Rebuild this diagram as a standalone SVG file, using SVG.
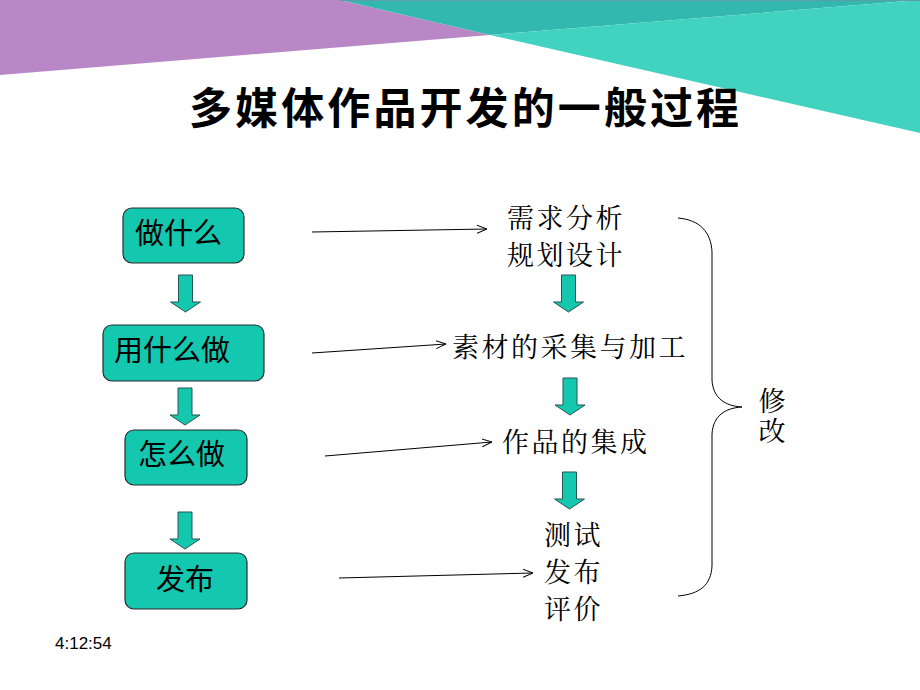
<svg xmlns="http://www.w3.org/2000/svg" width="920" height="690" viewBox="0 0 920 690">
<style>
.node rect{fill:#14C7AF;stroke:#2b2b2b;stroke-width:1.2}
.nt{font-family:"Noto Sans CJK SC","Noto Sans",sans-serif;font-size:29px;fill:#000}
.rt{font-family:"Noto Serif CJK SC","Noto Sans CJK SC",serif;font-size:27px;fill:#000;letter-spacing:2.5px}
.blk{fill:#14C7AF;stroke:#2b5550;stroke-width:1}
.thin{fill:none;stroke:#000;stroke-width:1;marker-end:url(#open)}
</style>
<defs>
<marker id="open" viewBox="0 0 10 10" refX="10" refY="5" markerWidth="10" markerHeight="10" markerUnits="userSpaceOnUse" orient="auto">
<path d="M0,1 L10,5 L0,9" fill="none" stroke="#000" stroke-width="1"/>
</marker>
<path id="barrow" d="M-7,0 H7 V27 H15 L0,37 L-15,27 H-7 Z"/>
</defs>
<rect width="920" height="690" fill="#fff"/>
<g id="banner">
<polygon points="0,0 340,0 490,35 0,75" fill="#B987C5"/>
<polygon points="340,0 920,0 490,35" fill="#33B8B0"/>
<polygon points="490,35 920,0 920,133" fill="#42D2C0"/>
<line x1="340" y1="0.5" x2="920" y2="0.5" stroke="#5c9ea6" stroke-width="1"/>
</g>
<text id="title" x="189" y="124" font-family="Noto Sans CJK SC,sans-serif" font-weight="bold" font-size="43" letter-spacing="3.1" fill="#000">多媒体作品开发的一般过程</text>
<g id="n1" class="node"><rect x="123" y="208" width="121" height="55" rx="9"/><text class="nt" x="135" y="244">做什么</text></g>
<g id="n2" class="node"><rect x="103" y="325" width="161" height="56" rx="9"/><text class="nt" x="114" y="361">用什么做</text></g>
<g id="n3" class="node"><rect x="125" y="430" width="122" height="55" rx="9"/><text class="nt" x="138" y="465">怎么做</text></g>
<g id="n4" class="node"><rect x="125" y="553" width="122" height="56" rx="9"/><text class="nt" x="156" y="590">发布</text></g>
<g id="r1"><text class="rt" x="507" y="228">需求分析</text><text class="rt" x="507" y="265">规划设计</text></g>
<g id="r2"><text class="rt" x="452" y="357">素材的采集与加工</text></g>
<g id="r3"><text class="rt" x="502" y="452">作品的集成</text></g>
<g id="r4"><text class="rt" x="544" y="545">测试</text><text class="rt" x="544" y="582">发布</text><text class="rt" x="544" y="619">评价</text></g>
<g id="xiugai"><text class="rt" x="772" y="387" writing-mode="vertical-rl" style="letter-spacing:3px">修改</text></g>
<g id="connectors">
<use href="#barrow" class="blk" x="185.5" y="275"/>
<use href="#barrow" class="blk" x="185" y="388"/>
<use href="#barrow" class="blk" x="185" y="512"/>
<use href="#barrow" class="blk" x="568.5" y="275"/>
<use href="#barrow" class="blk" x="570" y="378"/>
<use href="#barrow" class="blk" x="569.5" y="472"/>
<path class="thin" d="M312,232 L487,229"/>
<path class="thin" d="M312,353 L446,344"/>
<path class="thin" d="M325,456 L492,442"/>
<path class="thin" d="M339,578 L533,573"/>
<path d="M678,218 C700,220 711,232 712,252 V380 C713,398 725,406 742,407 C725,408 713,416 712,434 V566 C711,585 700,594 678,596" fill="none" stroke="#000" stroke-width="1"/>
</g>
<text id="time" x="55" y="649" font-family="Liberation Sans,Arial,sans-serif" font-size="17" fill="#000">4:12:54</text>
</svg>
